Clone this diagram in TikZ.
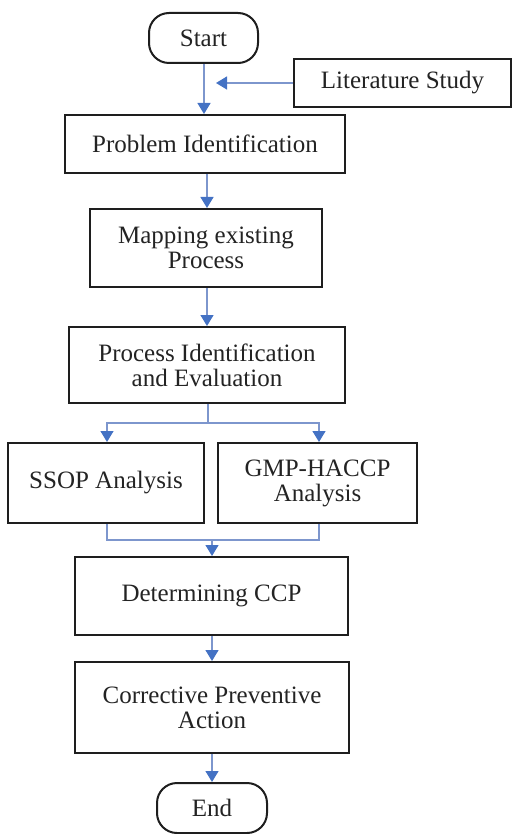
\documentclass[tikz,border=0pt]{standalone}
\usepackage{fontspec}
\setmainfont{Liberation Serif}
\usetikzlibrary{arrows.meta,positioning}
\definecolor{linec}{RGB}{125,150,205}
\definecolor{arrowc}{RGB}{68,114,196}
\definecolor{boxc}{RGB}{30,30,30}
\definecolor{textc}{RGB}{35,35,35}
\tikzset{
  box/.style={draw=boxc, line width=2pt, rectangle, align=center, inner sep=0pt,
    text=textc, font=\fontsize{25}{25}\selectfont},
  term/.style={box, rounded corners=20pt},
  conn/.style={draw=linec, line width=1.3pt},
  arr/.style={conn, -{Triangle[width=13pt,length=11pt,color=arrowc]}},
}
\begin{document}
\begin{tikzpicture}[x=1pt,y=-1pt]
\useasboundingbox (0,0) rectangle (515,834);
\node[term, minimum width=109pt, minimum height=50pt] (start) at (203.5,38) {Start};
\node[box, minimum width=217pt, minimum height=48pt] (lit) at (402.5,83) {Literature Study};
\node[box, minimum width=280pt, minimum height=58pt] (pi) at (205,144) {Problem Identification};
\node[box, minimum width=232pt, minimum height=78pt] (map) at (206,248) {Mapping existing\\Process};
\node[box, minimum width=276pt, minimum height=76pt] (pie) at (207,365) {Process Identification\\and Evaluation};
\node[box, minimum width=196pt, minimum height=80pt] (ssop) at (106,483) {SSOP Analysis};
\node[box, minimum width=199pt, minimum height=80pt] (gmp) at (317.5,483) {GMP-HACCP\\Analysis};
\node[box, minimum width=273pt, minimum height=78pt] (ccp) at (211.5,596) {Determining CCP};
\node[box, minimum width=274pt, minimum height=91pt] (cpa) at (212,707.5) {Corrective Preventive\\Action};
\node[term, minimum width=110pt, minimum height=50pt] (end) at (212,808) {End};

\coordinate (litend) at (216,83);
\coordinate (split) at (208,423);
\coordinate (merge) at (212,540);

\draw[arr] (start.south -| 204,0) -- (pi.north -| 204,0);
\draw[arr] (lit.west) -- (litend);
\draw[arr] (pi.south -| 207,0) -- (map.north -| 207,0);
\draw[arr] (map.south -| 207,0) -- (pie.north -| 207,0);
\draw[conn] (pie.south -| split) -- (split);
\draw[arr] (split) -| (ssop.north -| 107,0);
\draw[arr] (split) -| (gmp.north -| 319,0);
\draw[conn] (ssop.south -| 107,0) |- (merge) -| (gmp.south -| 319,0);
\draw[arr] (merge) -- (ccp.north -| merge);
\draw[arr] (ccp.south -| 212,0) -- (cpa.north -| 212,0);
\draw[arr] (cpa.south -| 212,0) -- (end.north -| 212,0);
\end{tikzpicture}
\end{document}
